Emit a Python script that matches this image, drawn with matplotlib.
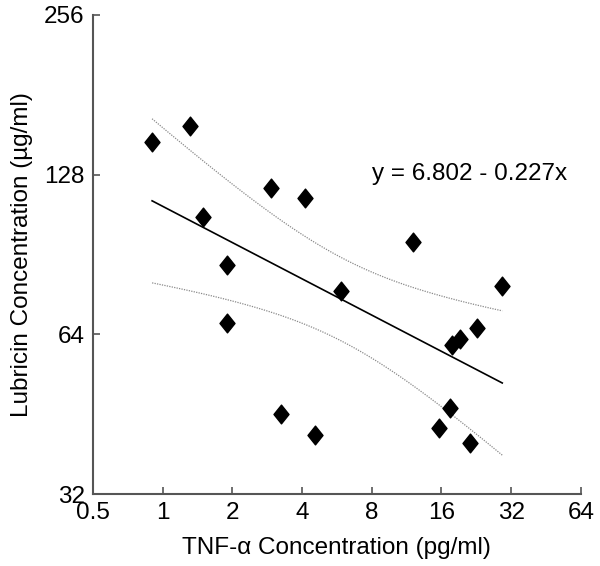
import numpy as np
import matplotlib
matplotlib.use("Agg")
import matplotlib.pyplot as plt
from matplotlib.path import Path

# TNF-alpha (pg/ml) and Lubricin (ug/ml)
tnf = [0.90, 1.31, 1.49, 1.89, 1.89, 2.94, 4.12, 3.23, 4.57, 5.92,
       12.1, 15.6, 17.5, 17.7, 19.2, 21.2, 22.9, 29.3]
lub = [147.8, 157.8, 106.7, 86.6, 67.3, 120.6, 115.5, 45.4, 41.3, 77.2,
       95.5, 42.7, 46.5, 61.2, 62.8, 40.0, 65.8, 79.1]
intercept = 6.802
slope = -0.227
x_ticks = [0.5, 1, 2, 4, 8, 16, 32, 64]
x_tick_labels = ["0.5", "1", "2", "4", "8", "16", "32", "64"]
y_ticks = [32, 64, 128, 256]
y_tick_labels = ["32", "64", "128", "256"]

plt.rcParams['font.family'] = ['Liberation Sans', 'DejaVu Sans']
FS = 17.5

fig = plt.figure(figsize=(6.0, 5.66), dpi=100)
ax = fig.add_axes([0.155, 0.127, 0.813, 0.8465])
ax.set_xscale('log', base=2)
ax.set_yscale('log', base=2)
ax.set_xlim(0.5, 64)
ax.set_ylim(32, 256)

lx = np.log2(np.array(tnf))
ly = np.log2(np.array(lub))
n = len(lx)
resid = ly - (intercept + slope * lx)
s = np.sqrt(np.sum(resid ** 2) / (n - 2))
xbar = lx.mean()
sxx = np.sum((lx - xbar) ** 2)
tval = 2.12
grid = np.linspace(lx.min(), lx.max(), 100)
fit = intercept + slope * grid
half = tval * s * np.sqrt(1.0 / n + (grid - xbar) ** 2 / sxx)

ax.plot(2 ** grid, 2 ** fit, color='black', lw=1.2, zorder=2)
ax.plot(2 ** grid, 2 ** (fit + half), color='#8a8a8a', lw=0.9, ls=(0, (1, 1)), zorder=1)
ax.plot(2 ** grid, 2 ** (fit - half), color='#8a8a8a', lw=0.9, ls=(0, (1, 1)), zorder=1)

diamond = Path([(0, 1), (0.8, 0), (0, -1), (-0.8, 0), (0, 1)],
               [Path.MOVETO, Path.LINETO, Path.LINETO, Path.LINETO, Path.CLOSEPOLY])
ax.plot(tnf, lub, ls='none', marker=diamond, markersize=13.5,
        color='black', zorder=3)

ax.text(0.572, 0.669, "y = 6.802 - 0.227x", transform=ax.transAxes,
        fontsize=FS, ha='left', va='center')

ax.set_xticks(x_ticks)
ax.set_xticklabels(x_tick_labels)
ax.set_yticks(y_ticks)
ax.set_yticklabels(y_tick_labels)
ax.minorticks_off()
ax.tick_params(direction='in', length=5, width=1.2, color='#555555',
               labelsize=FS)
ax.tick_params(axis='x', pad=6)
ax.tick_params(axis='y', pad=6)
for side in ['top', 'right']:
    ax.spines[side].set_visible(False)
for side in ['left', 'bottom']:
    ax.spines[side].set_color('#555555')
    ax.spines[side].set_linewidth(1.5)

ax.set_xlabel("TNF-\u03b1 Concentration (pg/ml)", fontsize=FS, labelpad=9)
ax.set_ylabel("Lubricin Concentration (\u00b5g/ml)", fontsize=FS, labelpad=8)

fig.savefig("out.png", dpi=100)
